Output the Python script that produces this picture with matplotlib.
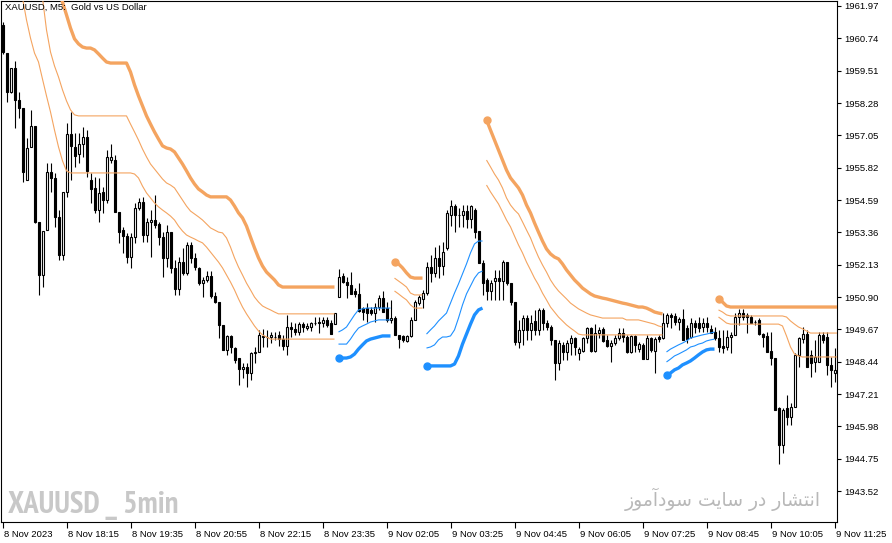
import numpy as np
import matplotlib
matplotlib.use("Agg")
import matplotlib.pyplot as plt
from matplotlib import font_manager
from matplotlib.transforms import ScaledTranslation

plt.rcParams['font.family'] = ['Liberation Sans', 'DejaVu Sans']

# XAUUSD M5 candles, first bar = 8 Nov 2023 16:55
opens = [
    1961.25, 1960.18, 1958.70, 1959.61, 1958.40, 1958.09, 1955.35, 1956.61, 1957.41, 1953.76,
    1951.74, 1953.45, 1955.66, 1955.43, 1953.95, 1952.50, 1954.90, 1957.10, 1956.61, 1956.34,
    1956.72, 1956.99, 1955.35, 1955.05, 1954.21, 1954.90, 1954.59, 1956.11, 1956.11, 1954.14,
    1953.45, 1953.22, 1952.42, 1953.18, 1954.29, 1954.52, 1953.26, 1953.76, 1953.83, 1953.68,
    1953.18, 1952.39, 1953.37, 1952.01, 1951.21, 1952.23, 1951.82, 1952.88, 1952.39, 1952.01,
    1951.43, 1951.55, 1951.70, 1950.94, 1950.71, 1949.84, 1948.89, 1949.42, 1948.96, 1948.58,
    1948.16, 1948.24, 1948.01, 1948.77, 1948.81, 1949.38, 1949.38, 1949.38, 1949.38, 1949.46,
    1949.30, 1949.04, 1949.76, 1949.69, 1949.57, 1949.87, 1949.72, 1949.76, 1949.91, 1949.95,
    1949.91, 1950.03, 1949.91, 1949.87, 1950.90, 1951.70, 1951.47, 1951.36, 1951.13, 1951.02,
    1950.48, 1950.48, 1950.41, 1950.29, 1950.52, 1950.86, 1950.48, 1950.03, 1950.10, 1949.46,
    1949.42, 1949.23, 1949.42, 1950.03, 1950.67, 1950.83, 1951.05, 1952.04, 1951.82, 1952.39,
    1952.08, 1952.77, 1954.02, 1954.36, 1954.02, 1954.02, 1954.17, 1953.87, 1954.21, 1953.41,
    1952.20, 1951.55, 1951.13, 1951.51, 1951.62, 1951.51, 1952.23, 1951.43, 1950.71, 1949.19,
    1949.65, 1950.10, 1949.65, 1949.99, 1949.65, 1950.41, 1949.91, 1949.76, 1949.27, 1948.39,
    1949.08, 1948.81, 1949.15, 1949.34, 1948.77, 1948.85, 1949.34, 1949.72, 1948.85, 1949.53,
    1949.69, 1949.27, 1949.04, 1949.15, 1949.34, 1949.53, 1949.38, 1948.81, 1949.42, 1948.92,
    1949.08, 1948.54, 1949.34, 1948.85, 1949.38, 1949.34, 1949.91, 1950.22, 1950.18, 1949.95,
    1950.07, 1949.72, 1949.38, 1949.91, 1949.91, 1949.76, 1949.91, 1949.69, 1949.57, 1949.34,
    1949.04, 1949.00, 1949.38, 1949.46, 1950.14, 1950.29, 1950.22, 1950.14, 1949.95, 1950.03,
    1949.49, 1949.42, 1948.85, 1948.58, 1946.68, 1945.27, 1946.68, 1946.34, 1946.72, 1948.70,
    1949.30, 1949.49, 1948.70, 1948.43, 1948.43, 1949.46, 1949.38, 1948.32, 1948.01, 1948.01,
]
highs = [
    1961.36, 1960.18, 1959.61, 1959.88, 1958.70, 1958.09, 1956.95, 1958.02, 1957.41, 1953.76,
    1953.41, 1956.00, 1956.00, 1955.62, 1954.21, 1954.90, 1957.52, 1957.94, 1957.14, 1957.14,
    1957.37, 1957.25, 1955.62, 1955.47, 1955.43, 1955.09, 1956.49, 1956.72, 1956.30, 1954.14,
    1953.57, 1953.34, 1953.34, 1954.48, 1954.67, 1954.71, 1953.91, 1954.21, 1954.78, 1953.76,
    1953.37, 1953.64, 1953.37, 1952.31, 1952.42, 1952.77, 1952.99, 1952.99, 1952.58, 1952.04,
    1951.66, 1951.89, 1951.89, 1951.09, 1950.71, 1949.84, 1949.46, 1949.46, 1949.00, 1948.58,
    1948.39, 1948.39, 1948.81, 1949.00, 1949.65, 1949.69, 1949.65, 1949.57, 1949.57, 1949.61,
    1949.46, 1950.22, 1949.95, 1949.91, 1949.95, 1949.95, 1949.91, 1949.95, 1950.14, 1950.14,
    1950.14, 1950.14, 1950.03, 1950.29, 1951.97, 1951.82, 1951.66, 1951.85, 1951.24, 1951.43,
    1950.52, 1950.67, 1950.52, 1950.67, 1950.98, 1951.13, 1950.71, 1950.79, 1950.18, 1949.46,
    1949.46, 1949.46, 1950.14, 1950.79, 1950.98, 1951.17, 1952.23, 1952.50, 1952.80, 1952.88,
    1952.99, 1954.21, 1954.59, 1954.44, 1954.29, 1954.40, 1954.40, 1954.40, 1954.29, 1953.41,
    1952.31, 1951.62, 1951.55, 1951.93, 1951.93, 1952.31, 1952.23, 1951.43, 1950.71, 1950.03,
    1950.22, 1950.22, 1950.22, 1950.41, 1950.48, 1950.48, 1950.03, 1949.84, 1949.27, 1949.27,
    1949.19, 1949.27, 1949.46, 1949.38, 1949.00, 1949.38, 1949.76, 1949.76, 1949.87, 1949.76,
    1949.76, 1949.46, 1949.27, 1949.46, 1949.72, 1949.72, 1949.46, 1949.46, 1949.46, 1949.19,
    1949.15, 1949.46, 1949.38, 1949.38, 1949.46, 1950.29, 1950.29, 1950.29, 1950.29, 1950.14,
    1950.45, 1949.84, 1950.10, 1950.03, 1950.14, 1950.10, 1950.14, 1949.84, 1949.76, 1949.65,
    1949.65, 1949.65, 1949.57, 1950.29, 1950.45, 1950.45, 1950.29, 1950.22, 1950.03, 1950.10,
    1949.53, 1949.57, 1949.57, 1948.58, 1946.72, 1946.68, 1947.17, 1946.87, 1948.77, 1949.38,
    1949.76, 1949.65, 1948.89, 1949.27, 1949.57, 1949.57, 1949.57, 1948.62, 1948.96, 1948.01,
]
lows = [
    1960.15, 1958.32, 1958.66, 1957.33, 1957.71, 1955.28, 1955.35, 1956.61, 1953.72, 1950.98,
    1951.28, 1953.45, 1954.90, 1953.57, 1952.31, 1952.31, 1954.71, 1955.35, 1955.85, 1956.00,
    1956.23, 1955.47, 1954.48, 1954.10, 1953.76, 1954.10, 1954.48, 1956.00, 1954.14, 1952.96,
    1952.58, 1952.20, 1952.01, 1952.96, 1954.21, 1952.99, 1952.99, 1952.42, 1953.53, 1952.88,
    1951.66, 1952.04, 1951.82, 1950.98, 1950.98, 1951.74, 1951.74, 1952.20, 1951.93, 1951.36,
    1950.90, 1951.47, 1950.86, 1950.67, 1949.34, 1948.89, 1948.70, 1948.77, 1948.39, 1947.55,
    1947.82, 1947.48, 1947.74, 1948.39, 1948.81, 1949.00, 1949.00, 1949.15, 1949.27, 1949.04,
    1948.89, 1948.70, 1949.38, 1949.46, 1949.46, 1949.57, 1949.65, 1949.61, 1949.84, 1949.53,
    1949.76, 1949.76, 1949.49, 1949.87, 1950.90, 1951.43, 1950.86, 1951.02, 1950.90, 1950.33,
    1950.03, 1949.95, 1950.22, 1949.95, 1950.41, 1950.33, 1949.95, 1949.91, 1949.46, 1948.96,
    1949.19, 1949.19, 1949.38, 1950.03, 1950.60, 1950.48, 1950.98, 1951.47, 1951.66, 1951.62,
    1951.74, 1952.69, 1953.60, 1953.37, 1953.57, 1953.57, 1953.53, 1953.53, 1953.15, 1952.20,
    1950.98, 1950.79, 1950.79, 1950.79, 1950.79, 1950.79, 1951.36, 1950.60, 1949.08, 1948.96,
    1949.08, 1949.27, 1949.27, 1949.46, 1949.46, 1949.65, 1949.65, 1949.08, 1947.74, 1948.13,
    1948.51, 1948.51, 1948.70, 1948.70, 1948.51, 1948.81, 1949.15, 1948.81, 1948.81, 1949.34,
    1949.19, 1949.00, 1948.43, 1949.08, 1949.27, 1949.19, 1948.77, 1948.77, 1948.81, 1948.81,
    1948.54, 1948.54, 1948.81, 1948.01, 1949.19, 1949.30, 1949.76, 1949.72, 1949.84, 1949.65,
    1949.27, 1949.15, 1949.34, 1949.53, 1949.57, 1949.57, 1949.57, 1949.53, 1949.27, 1948.81,
    1948.77, 1948.89, 1948.77, 1949.46, 1949.84, 1950.03, 1949.53, 1949.91, 1949.84, 1949.46,
    1949.00, 1948.81, 1948.32, 1946.60, 1944.55, 1944.97, 1946.03, 1946.03, 1946.72, 1948.24,
    1949.15, 1948.24, 1947.86, 1948.05, 1948.43, 1949.15, 1947.93, 1947.48, 1947.67, 1946.60,
]
closes = [
    1960.22, 1958.70, 1959.61, 1958.40, 1958.09, 1955.66, 1956.57, 1957.41, 1953.76, 1951.74,
    1953.41, 1955.66, 1955.43, 1953.95, 1952.50, 1954.90, 1957.10, 1956.65, 1956.27, 1956.72,
    1956.99, 1955.70, 1955.01, 1954.21, 1954.86, 1954.59, 1956.23, 1956.23, 1954.14, 1953.37,
    1953.22, 1952.42, 1953.18, 1954.29, 1954.52, 1953.26, 1953.76, 1953.83, 1953.64, 1953.18,
    1952.39, 1953.37, 1952.01, 1951.21, 1952.23, 1951.82, 1952.88, 1952.39, 1952.04, 1951.43,
    1951.55, 1951.70, 1950.94, 1950.71, 1949.84, 1948.89, 1949.42, 1949.00, 1948.51, 1948.16,
    1948.24, 1948.01, 1948.77, 1948.81, 1949.46, 1949.42, 1949.38, 1949.46, 1949.38, 1949.30,
    1949.04, 1949.76, 1949.69, 1949.57, 1949.87, 1949.76, 1949.80, 1949.91, 1949.91, 1949.91,
    1950.03, 1949.84, 1949.49, 1950.29, 1951.66, 1951.47, 1951.36, 1951.02, 1951.02, 1950.37,
    1950.33, 1950.29, 1950.29, 1950.52, 1950.86, 1950.33, 1950.03, 1950.10, 1949.46, 1949.30,
    1949.27, 1949.42, 1950.03, 1950.71, 1950.90, 1951.05, 1952.04, 1951.82, 1952.39, 1952.08,
    1952.61, 1954.10, 1954.36, 1954.02, 1954.02, 1954.17, 1953.87, 1954.36, 1953.37, 1952.20,
    1951.43, 1951.13, 1951.43, 1951.62, 1951.51, 1952.23, 1951.43, 1950.71, 1949.19, 1949.65,
    1950.10, 1949.65, 1949.91, 1949.65, 1950.41, 1949.91, 1949.76, 1949.27, 1948.39, 1949.15,
    1948.81, 1949.15, 1949.34, 1949.00, 1948.92, 1949.34, 1949.72, 1948.85, 1949.53, 1949.65,
    1949.23, 1949.04, 1949.15, 1949.34, 1949.53, 1949.38, 1948.81, 1949.42, 1949.08, 1949.11,
    1948.54, 1949.34, 1948.89, 1949.30, 1949.30, 1949.91, 1950.22, 1950.14, 1949.95, 1950.07,
    1949.27, 1949.30, 1949.91, 1949.76, 1949.72, 1949.91, 1949.76, 1949.53, 1949.34, 1949.00,
    1948.96, 1949.38, 1949.46, 1950.14, 1950.29, 1950.14, 1950.14, 1949.91, 1949.95, 1949.49,
    1949.38, 1948.81, 1948.58, 1946.60, 1945.27, 1946.60, 1946.34, 1946.72, 1948.70, 1949.34,
    1949.49, 1948.24, 1948.39, 1948.62, 1949.46, 1949.27, 1948.32, 1948.13, 1948.13, 1946.98,
]

# labelled bars on the time axis (every 16th bar)
time_labels = ["8 Nov 2023", "8 Nov 18:15", "8 Nov 19:35", "8 Nov 20:55", "8 Nov 22:15",
               "8 Nov 23:35", "9 Nov 02:05", "9 Nov 03:25", "9 Nov 04:45", "9 Nov 06:05",
               "9 Nov 07:25", "9 Nov 08:45", "9 Nov 10:05", "9 Nov 11:25"]
price_ticks = [1961.97, 1960.74, 1959.51, 1958.28, 1957.05, 1955.82, 1954.59, 1953.36,
               1952.13, 1950.90, 1949.67, 1948.44, 1947.21, 1945.98, 1944.75, 1943.52]

# trailing stop levels, each segment = (first bar, values)
stop_up_3 = [
    (14, [1962.58, 1962.12, 1961.63, 1961.13, 1960.72, 1960.53, 1960.41, 1960.37, 1960.37, 1960.30,
          1960.15, 1959.99, 1959.84, 1959.80, 1959.80, 1959.80, 1959.80, 1959.80, 1959.46, 1958.97,
          1958.55, 1958.17, 1957.79, 1957.48, 1957.18, 1956.91, 1956.65, 1956.57, 1956.53, 1956.42,
          1956.19, 1955.96, 1955.70, 1955.43, 1955.20, 1955.01, 1954.90, 1954.78, 1954.71, 1954.71,
          1954.71, 1954.71, 1954.71, 1954.59, 1954.36, 1954.10, 1953.91, 1953.60, 1953.18, 1952.77,
          1952.39, 1952.08, 1951.85, 1951.70, 1951.55, 1951.36, 1951.28, 1951.28, 1951.28, 1951.28,
          1951.28, 1951.28, 1951.28, 1951.28, 1951.28, 1951.28, 1951.28, 1951.28, 1951.28, 1951.28]),
    (98, [1952.23, 1952.16, 1952.01, 1951.82, 1951.66, 1951.62, 1951.62, 1951.62]),
    (121, [1957.64, 1957.25, 1956.87, 1956.49, 1956.11, 1955.73, 1955.43, 1955.24, 1955.05, 1954.78,
           1954.40, 1954.10, 1953.72, 1953.37, 1953.03, 1952.73, 1952.54, 1952.42, 1952.35, 1952.16,
           1951.93, 1951.74, 1951.55, 1951.40, 1951.24, 1951.13, 1951.02, 1950.94, 1950.90, 1950.86,
           1950.83, 1950.79, 1950.75, 1950.71, 1950.67, 1950.64, 1950.60, 1950.56, 1950.52, 1950.52,
           1950.48, 1950.41, 1950.33, 1950.29, 1950.26]),
    (179, [1950.83, 1950.71, 1950.56, 1950.52, 1950.52, 1950.52, 1950.52, 1950.52, 1950.52, 1950.52,
           1950.52, 1950.52, 1950.52, 1950.52, 1950.52, 1950.52, 1950.52, 1950.52, 1950.52, 1950.52,
           1950.52, 1950.52, 1950.52, 1950.52, 1950.52, 1950.52, 1950.52, 1950.52, 1950.52, 1950.52,
           1950.52]),
]
stop_up_2 = [
    (10, [1962.28, 1961.06, 1960.22, 1959.69, 1959.27, 1958.78, 1958.36, 1958.02, 1957.83, 1957.79,
          1957.79, 1957.79, 1957.79, 1957.79, 1957.79, 1957.79, 1957.79, 1957.79, 1957.79, 1957.79,
          1957.79, 1957.79, 1957.48, 1957.18, 1956.87, 1956.53, 1956.23, 1955.96, 1955.77, 1955.58,
          1955.39, 1955.24, 1955.16, 1955.05, 1954.82, 1954.59, 1954.36, 1954.17, 1954.06, 1953.95,
          1953.83, 1953.68, 1953.53, 1953.45, 1953.37, 1953.34, 1953.15, 1952.80, 1952.39, 1952.04,
          1951.74, 1951.43, 1951.17, 1950.90, 1950.71, 1950.56, 1950.48, 1950.41, 1950.33, 1950.26,
          1950.26, 1950.26, 1950.26, 1950.26, 1950.26, 1950.26, 1950.26, 1950.26, 1950.26, 1950.26,
          1950.26, 1950.26, 1950.26, 1950.26]),
    (98, [1951.62, 1951.51, 1951.40, 1951.28, 1951.05, 1950.98, 1950.98, 1950.98]),
    (121, [1956.11, 1955.85, 1955.58, 1955.35, 1955.05, 1954.67, 1954.40, 1954.21, 1954.06, 1953.76,
           1953.45, 1953.15, 1952.77, 1952.42, 1952.12, 1951.85, 1951.55, 1951.32, 1951.13, 1950.98,
           1950.83, 1950.67, 1950.56, 1950.45, 1950.37, 1950.29, 1950.22, 1950.18, 1950.14, 1950.10,
           1950.10, 1950.10, 1950.10, 1950.10, 1950.10, 1950.03, 1950.03, 1950.03, 1950.03, 1949.99,
           1949.95, 1949.91, 1949.87, 1949.80, 1949.76]),
    (179, [1950.41, 1950.33, 1950.22, 1950.18, 1950.18, 1950.18, 1950.18, 1950.18, 1950.18, 1950.18,
           1950.18, 1950.18, 1950.18, 1950.18, 1950.18, 1950.18, 1950.18, 1950.14, 1949.99, 1949.87,
           1949.76, 1949.69, 1949.61, 1949.53, 1949.53, 1949.53, 1949.53, 1949.53, 1949.53, 1949.53,
           1949.53]),
]
stop_up_1 = [
    (5, [1962.28, 1961.44, 1960.75, 1960.18, 1959.84, 1959.19, 1958.55, 1957.94, 1957.25, 1956.61,
         1956.08, 1955.70, 1955.62, 1955.62, 1955.62, 1955.62, 1955.62, 1955.62, 1955.62, 1955.62,
         1955.62, 1955.62, 1955.62, 1955.62, 1955.62, 1955.62, 1955.62, 1955.62, 1955.58, 1955.43,
         1955.12, 1954.86, 1954.67, 1954.48, 1954.33, 1954.21, 1954.10, 1953.98, 1953.83, 1953.60,
         1953.41, 1953.26, 1953.18, 1953.11, 1953.03, 1952.96, 1952.80, 1952.61, 1952.42, 1952.23,
         1952.01, 1951.74, 1951.47, 1951.17, 1950.83, 1950.52, 1950.26, 1950.03, 1949.80, 1949.61,
         1949.46, 1949.38, 1949.30, 1949.30, 1949.30, 1949.30, 1949.30, 1949.30, 1949.30, 1949.30,
         1949.30, 1949.30, 1949.30, 1949.30, 1949.30, 1949.30, 1949.30, 1949.30, 1949.30]),
    (98, [1951.13, 1951.02, 1950.90, 1950.79, 1950.60, 1950.48, 1950.48, 1950.48]),
    (121, [1955.16, 1954.90, 1954.67, 1954.44, 1954.14, 1953.83, 1953.57, 1953.22, 1952.88, 1952.58,
           1952.23, 1951.93, 1951.62, 1951.36, 1951.05, 1950.79, 1950.52, 1950.33, 1950.14, 1949.99,
           1949.84, 1949.72, 1949.61, 1949.49, 1949.46, 1949.46, 1949.46, 1949.46, 1949.46, 1949.46,
           1949.46, 1949.46, 1949.46, 1949.46, 1949.46, 1949.46, 1949.46, 1949.46, 1949.46, 1949.46,
           1949.46, 1949.46, 1949.46, 1949.46, 1949.46]),
    (179, [1950.14, 1950.03, 1949.91, 1949.87, 1949.87, 1949.87, 1949.87, 1949.87, 1949.87, 1949.87,
           1949.87, 1949.87, 1949.87, 1949.87, 1949.87, 1949.87, 1949.80, 1949.42, 1949.00, 1948.73,
           1948.66, 1948.62, 1948.62, 1948.62, 1948.62, 1948.62, 1948.62, 1948.62, 1948.62, 1948.62,
           1948.62]),
]
stop_dn_3 = [
    (84, [1948.58, 1948.58, 1948.58, 1948.62, 1948.73, 1948.92, 1949.08, 1949.23, 1949.30, 1949.34,
          1949.38, 1949.42, 1949.42, 1949.42]),
    (106, [1948.28, 1948.28, 1948.28, 1948.28, 1948.28, 1948.28, 1948.28, 1948.35, 1948.66, 1949.11,
           1949.49, 1949.87, 1950.22, 1950.41, 1950.48]),
    (166, [1947.93, 1948.01, 1948.13, 1948.20, 1948.32, 1948.39, 1948.47, 1948.58, 1948.70, 1948.81,
           1948.89, 1948.92, 1948.92]),
]
stop_dn_2 = [
    (84, [1949.11, 1949.11, 1949.11, 1949.30, 1949.53, 1949.72, 1949.80, 1949.87, 1949.95, 1949.99,
          1950.03, 1950.03, 1950.03, 1950.03]),
    (106, [1948.96, 1949.00, 1949.08, 1949.27, 1949.38, 1949.38, 1949.42, 1949.65, 1950.10, 1950.60,
           1951.02, 1951.32, 1951.62, 1951.82, 1951.89]),
    (166, [1948.43, 1948.54, 1948.66, 1948.73, 1948.81, 1948.89, 1949.00, 1949.04, 1949.11, 1949.15,
           1949.23, 1949.27, 1949.30]),
]
stop_dn_1 = [
    (84, [1949.57, 1949.65, 1949.76, 1949.99, 1950.22, 1950.41, 1950.45, 1950.48, 1950.48, 1950.48,
          1950.48, 1950.48, 1950.48, 1950.48]),
    (106, [1949.49, 1949.65, 1949.80, 1949.99, 1950.14, 1950.29, 1950.67, 1951.05, 1951.40, 1951.78,
           1952.16, 1952.58, 1952.92, 1953.03, 1953.03]),
    (166, [1948.81, 1948.92, 1949.00, 1949.08, 1949.15, 1949.23, 1949.34, 1949.38, 1949.42, 1949.46,
           1949.49, 1949.53, 1949.57]),
]

chart_title = "XAUUSD, M5:  Gold vs US Dollar"
watermark = "XAUUSD _ 5min"
promo_text = "انتشار در سایت سودآموز"

# matplotlib does no Arabic shaping: pick presentation forms by hand
# (isolated, final, initial, medial); two forms = letter never joins forward
ARABIC_FORMS = {
    "\u0627": ("\ufe8d", "\ufe8e"),
    "\u0622": ("\ufe81", "\ufe82"),
    "\u0646": ("\ufee5", "\ufee6", "\ufee7", "\ufee8"),
    "\u062a": ("\ufe95", "\ufe96", "\ufe97", "\ufe98"),
    "\u0634": ("\ufeb5", "\ufeb6", "\ufeb7", "\ufeb8"),
    "\u0631": ("\ufead", "\ufeae"),
    "\u062f": ("\ufea9", "\ufeaa"),
    "\u0633": ("\ufeb1", "\ufeb2", "\ufeb3", "\ufeb4"),
    "\u06cc": ("\ufbfc", "\ufbfd", "\ufbfe", "\ufbff"),
    "\u064a": ("\ufbfc", "\ufbfd", "\ufbfe", "\ufbff"),
    "\u0648": ("\ufeed", "\ufeee"),
    "\u0645": ("\ufee1", "\ufee2", "\ufee3", "\ufee4"),
    "\u0632": ("\ufeaf", "\ufeb0"),
}


def shape_rtl(text):
    words = []
    for word in text.split(" "):
        out = []
        for i, ch in enumerate(word):
            forms = ARABIC_FORMS.get(ch)
            if forms is None:
                out.append(ch)
                continue
            prev = ARABIC_FORMS.get(word[i - 1]) if i > 0 else None
            joins_prev = prev is not None and len(prev) == 4
            joins_next = len(forms) == 4 and i < len(word) - 1
            if joins_prev and joins_next:
                out.append(forms[3])
            elif joins_prev:
                out.append(forms[1])
            elif joins_next:
                out.append(forms[2])
            else:
                out.append(forms[0])
        words.append("".join(out))
    return " ".join(words)[::-1]


# narrowest bold face we can find for the watermark
narrow_family, narrow_stretch = "DejaVu Sans", "normal"
for f in font_manager.fontManager.ttflist:
    if "Narrow" in f.name and f.weight in ("bold", 700):
        narrow_family, narrow_stretch = f.name, "normal"
        break
else:
    for f in font_manager.fontManager.ttflist:
        if f.name == "DejaVu Sans" and f.stretch == "condensed":
            narrow_stretch = "condensed"
            break

o = np.array(opens)
h = np.array(highs)
l = np.array(lows)
c = np.array(closes)
x = np.arange(len(o))
bull = c >= o

fig = plt.figure(figsize=(8.92, 5.43), dpi=100)
ax = fig.add_axes([1 / 892, 21 / 543, 836 / 892, 521 / 543])

# candles, MT5 style
ax.vlines(x, l, h, color="black", lw=0.8, zorder=2)
ax.bar(x[bull], (c - o)[bull], bottom=o[bull], width=0.5, facecolor="white",
       edgecolor="black", lw=0.8, zorder=3)
ax.bar(x[~bull], (c - o)[~bull], bottom=o[~bull], width=0.5, facecolor="black",
       edgecolor="black", lw=0.8, zorder=3)

orange = "#f4a460"
blue = "#1e90ff"
for segs, col, lw, dot in [(stop_up_1, orange, 0.8, False), (stop_up_2, orange, 0.8, False),
                           (stop_up_3, orange, 2.4, True), (stop_dn_1, blue, 0.8, False),
                           (stop_dn_2, blue, 0.8, False), (stop_dn_3, blue, 2.4, True)]:
    for start, vals in segs:
        xs = np.arange(start, start + len(vals))
        ax.plot(xs, vals, color=col, lw=lw, solid_capstyle="butt", zorder=4)
        if dot:
            ax.plot(xs[0], vals[0], "o", color=col, ms=5, mec=col, zorder=5)

ax.set_xlim(-0.375, 208.625)
ax.set_ylim(1942.343, 1962.16)

ax.yaxis.tick_right()
ax.set_yticks(price_ticks)
ax.set_yticklabels([f"{p:.2f}" for p in price_ticks])
ax.tick_params(axis="y", length=3, width=0.8, pad=2, labelsize=6.8, colors="black")

ax.set_xticks(np.arange(len(time_labels)) * 16)
ax.set_xticklabels(time_labels)
ax.tick_params(axis="x", length=4, width=0.8, pad=1.5, labelsize=6.8)
shift = ScaledTranslation(1 / 100, 0, fig.dpi_scale_trans)
for lbl in ax.get_xticklabels():
    lbl.set_ha("left")
    lbl.set_transform(lbl.get_transform() + shift)

for sp in ax.spines.values():
    sp.set_linewidth(0.8)
    sp.set_color("black")

ax.text(0.005, 0.996, chart_title, transform=ax.transAxes, ha="left", va="top",
        fontsize=6.8, zorder=6)
wm = ax.text(0.008, 0.018, watermark, transform=ax.transAxes, ha="left", va="baseline",
             fontsize=22, fontweight="bold", color="#c8c8c8", family=narrow_family,
             fontstretch=narrow_stretch, zorder=1)
promo = ax.text(0.98, 0.03, shape_rtl(promo_text), transform=ax.transAxes, ha="right",
                va="baseline", fontsize=13.5, color="#b8b8b8", family=["DejaVu Sans"],
                zorder=1)

# squeeze the watermark to the width it has on the original (about 180 px)
fig.canvas.draw()
w = wm.get_window_extent().width
if w > 180:
    wm.set_fontsize(22 * 180 / w)

fig.savefig("out.png", dpi=100)
